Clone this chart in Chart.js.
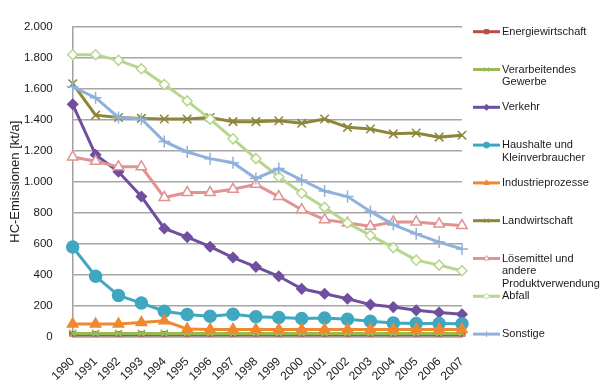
<!DOCTYPE html>
<html>
<head>
<meta charset="utf-8">
<script src="https://cdn.jsdelivr.net/npm/chart.js@4"></script>
<style>
  html, body { margin: 0; padding: 0; background: #fff; }
  #wrap { width: 600px; height: 392px; }
</style>
</head>
<body>
<div id="wrap"><canvas id="hc"></canvas></div>
<script>
var years = ['1990','1991','1992','1993','1994','1995','1996','1997','1998','1999',
             '2000','2001','2002','2003','2004','2005','2006','2007'];

var energie      = [12, 12, 12, 12, 12, 12, 12, 12, 12, 12, 12, 12, 12, 12, 12, 12, 12, 12];
var verarbeitend = [20, 20, 20, 20, 20, 20, 20, 20, 20, 20, 20, 20, 20, 20, 20, 20, 20, 20];
var verkehr      = [1500, 1174, 1064, 904, 698, 642, 580, 510, 450, 389, 308, 276, 244, 206, 190, 169, 155, 144];
var haushalte    = [578, 389, 265, 216, 163, 142, 131, 144, 127, 123, 116, 120, 112, 99, 88, 84, 84, 82];
var industrie    = [80, 80, 80, 90, 101, 48, 46, 46, 45, 45, 45, 45, 45, 45, 45, 45, 45, 45];
var landwirt     = [1633, 1430, 1415, 1409, 1405, 1405, 1415, 1388, 1388, 1394, 1377, 1405, 1351, 1341, 1309, 1315, 1288, 1300];
var loesemittel  = [1160, 1132, 1096, 1096, 898, 930, 930, 951, 983, 904, 819, 755, 733, 712, 740, 740, 727, 717];
var abfall       = [1820, 1820, 1784, 1730, 1628, 1522, 1404, 1277, 1149, 1032, 925, 834, 733, 653, 574, 493, 461, 425];
var sonstige     = [1613, 1543, 1415, 1405, 1260, 1192, 1149, 1123, 1021, 1085, 1011, 940, 904, 808, 723, 663, 610, 565];

var legendLabels = [
  ['Energiewirtschaft'],
  ['Verarbeitendes', 'Gewerbe'],
  ['Verkehr'],
  ['Haushalte und', 'Kleinverbraucher'],
  ['Industrieprozesse'],
  ['Landwirtschaft'],
  ['Lösemittel und', 'andere', 'Produktverwendung'],
  ['Abfall'],
  ['Sonstige']
];

var yTicks = [0, 200, 400, 600, 800, 1000, 1200, 1400, 1600, 1800, 2000];

function deNum(v) {
  if (v < 1000) return String(v);
  return Math.floor(v / 1000) + '.' + String(v % 1000).padStart(3, '0');
}

function series(i, data, color, style, radius, fill) {
  return {
    label: legendLabels[i].join(' '),
    data: data,
    borderColor: color,
    backgroundColor: fill || color,
    pointBackgroundColor: fill || color,
    pointBorderColor: color,
    pointStyle: style,
    pointRadius: radius,
    pointBorderWidth: 1.5,
    borderWidth: 3,
    tension: 0,
    order: -i
  };
}

// legend drawn by hand so multi-line labels sit like in the original
var legendPlugin = {
  id: 'sideLegend',
  afterDraw: function(chart) {
    var ctx = chart.ctx;
    ctx.save();
    chart.data.datasets.forEach(function(ds, i) {
      var y = 31.7 + i * 37.8;
      ctx.strokeStyle = ds.borderColor;
      ctx.lineWidth = 3;
      ctx.beginPath();
      ctx.moveTo(473, y);
      ctx.lineTo(500, y);
      ctx.stroke();
      ctx.fillStyle = ds.pointBackgroundColor;
      ctx.lineWidth = 1;
      Chart.helpers.drawPoint(ctx, {pointStyle: ds.pointStyle, radius: 3, rotation: 0, borderWidth: 1}, 486.5, y);
      ctx.fillStyle = '#1a1a1a';
      ctx.font = '11px "Liberation Sans", Arial, sans-serif';
      ctx.textAlign = 'left';
      ctx.textBaseline = 'middle';
      legendLabels[i].forEach(function(t, k) {
        ctx.fillText(t, 502, y + k * 12.8);
      });
    });
    ctx.restore();
  }
};

new Chart(document.getElementById('hc'), {
  type: 'line',
  data: {
    labels: years,
    datasets: [
      series(0, energie, '#be4b48', 'rect', 4),
      series(1, verarbeitend, '#98b954', 'crossRot', 5),
      series(2, verkehr, '#6f4f9e', 'rectRot', 5),
      series(3, haushalte, '#3fa8c0', 'circle', 6),
      series(4, industrie, '#f0882f', 'triangle', 6),
      series(5, landwirt, '#8d8538', 'crossRot', 6),
      series(6, loesemittel, '#e09391', 'triangle', 6, '#ffffff'),
      series(7, abfall, '#b8d78e', 'rectRot', 5, '#ffffff'),
      series(8, sonstige, '#8fb1dc', 'cross', 6)
    ]
  },
  options: {
    responsive: true,
    maintainAspectRatio: false,
    animation: false,
    layout: { padding: { left: 0, right: 138, top: 19, bottom: 0 } },
    plugins: {
      legend: { display: false },
      tooltip: { enabled: false }
    },
    scales: {
      x: {
        offset: false,
        grid: { display: false },
        border: { display: true, color: '#a0a0a0', width: 1.5 },
        ticks: {
          color: '#1a1a1a',
          font: { family: '"Liberation Sans", Arial, sans-serif', size: 12 },
          minRotation: 45,
          maxRotation: 45,
          padding: 10,
          autoSkip: false
        },
        afterFit: function(s) { s.height = 55.5; }
      },
      y: {
        min: 0,
        max: 2000,
        afterBuildTicks: function(s) { s.ticks = yTicks.map(function(v) { return {value: v}; }); },
        grid: { color: '#a6a6a6', lineWidth: 1.5, drawTicks: false },
        border: { display: true, color: '#a0a0a0', width: 1.5 },
        ticks: {
          color: '#1a1a1a',
          font: { family: '"Liberation Sans", Arial, sans-serif', size: 11.5 },
          padding: 20,
          callback: function(v) { return deNum(v); }
        },
        title: {
          display: true,
          text: 'HC-Emissionen [kt/a]',
          color: '#1a1a1a',
          font: { family: '"Liberation Sans", Arial, sans-serif', size: 13 },
          padding: { top: 8, bottom: 0 }
        },
        afterFit: function(s) { s.width = 72.7; }
      }
    }
  },
  plugins: [legendPlugin]
});
</script>
</body>
</html>
